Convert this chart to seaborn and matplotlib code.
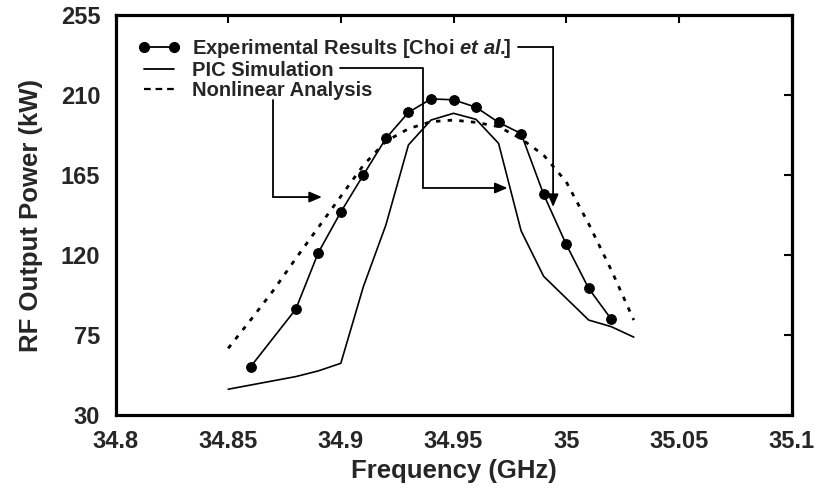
import matplotlib
matplotlib.use("Agg")
import matplotlib.pyplot as plt
from matplotlib.lines import Line2D
import seaborn as sns
import pandas as pd

# ---- data ----
exp_freq = [34.86, 34.88, 34.89, 34.90, 34.91, 34.92, 34.93, 34.94,
            34.95, 34.96, 34.97, 34.98, 34.99, 35.00, 35.01, 35.02]
exp_power = [57.2, 89.5, 121.3, 144.2, 165.0, 185.6, 200.2, 207.8,
             207.3, 203.1, 194.6, 188.3, 154.1, 126.0, 101.2, 83.9]

pic_freq = [34.85, 34.88, 34.89, 34.90, 34.91, 34.92, 34.93, 34.94,
            34.95, 34.96, 34.97, 34.98, 34.99, 35.01, 35.02, 35.03]
pic_power = [44.5, 51.6, 54.8, 59.1, 102.2, 136.9, 181.9, 195.9,
             199.7, 196.3, 182.8, 133.6, 108.0, 83.4, 79.7, 73.8]

nl_freq = [34.85, 34.86, 34.87, 34.88, 34.89, 34.90, 34.91, 34.92, 34.93,
           34.94, 34.95, 34.96, 34.97, 34.98, 34.99, 35.00, 35.01, 35.02, 35.03]
nl_power = [67.5, 83.5, 100.0, 118.0, 135.5, 153.0, 170.5, 184.0, 191.0,
            195.0, 195.9, 194.6, 192.2, 185.4, 176.2, 161.2, 137.5, 111.6, 83.4]

x_ticks = [34.8, 34.85, 34.9, 34.95, 35.0, 35.05, 35.1]
x_tick_labels = ["34.8", "34.85", "34.9", "34.95", "35", "35.05", "35.1"]
y_ticks = [30, 75, 120, 165, 210, 255]

labels = [r"Experimental Results [Choi $\mathit{et\ al.}\!\!$]",
          "PIC Simulation", "Nonlinear Analysis"]

# ---- style ----
sns.set_style("white")
plt.rcParams["font.family"] = ["Liberation Sans", "DejaVu Sans"]
plt.rcParams["font.weight"] = "bold"
plt.rcParams["mathtext.fontset"] = "custom"
plt.rcParams["mathtext.it"] = "Liberation Sans:italic:bold"
plt.rcParams["mathtext.rm"] = "Liberation Sans:bold"

fig = plt.figure(figsize=(8.18, 4.88), dpi=100)
ax = fig.add_axes([115.5 / 818, 1 - 415 / 488, 676 / 818, 400 / 488])

exp_df = pd.DataFrame({"f": exp_freq, "p": exp_power})
pic_df = pd.DataFrame({"f": pic_freq, "p": pic_power})
nl_df = pd.DataFrame({"f": nl_freq, "p": nl_power})

sns.lineplot(data=exp_df, x="f", y="p", ax=ax, color="black", lw=1.2,
             marker="o", markersize=7, markeredgecolor="black", sort=False)
sns.lineplot(data=pic_df, x="f", y="p", ax=ax, color="black", lw=1.2, sort=False)
sns.lineplot(data=nl_df, x="f", y="p", ax=ax, color="black", lw=2.0,
             linestyle=(0, (1.6, 2.6)), sort=False)

ax.set_xlim(34.8, 35.1)
ax.set_ylim(30, 255)
ax.set_xticks(x_ticks)
ax.set_xticklabels(x_tick_labels)
ax.set_yticks(y_ticks)
ax.tick_params(direction="in", length=6, width=1.5, top=True, right=True,
               labelsize=17, pad=11, color="black")
for lab in ax.get_xticklabels() + ax.get_yticklabels():
    lab.set_fontweight("bold")
for s in ax.spines.values():
    s.set_linewidth(2.3)
    s.set_color("black")

ax.set_xlabel("Frequency (GHz)", fontsize=18.5, fontweight="bold", labelpad=4)
ax.set_ylabel("RF Output Power (kW)", fontsize=18.5, fontweight="bold", labelpad=13)

handles = [
    Line2D([], [], color="black", lw=1.3, marker="o", markersize=7),
    Line2D([], [], color="black", lw=1.3),
    Line2D([], [], color="black", lw=1.6, linestyle=(0, (3.0, 2.2))),
]
leg = ax.legend(handles, labels, loc="upper left", bbox_to_anchor=(0.033, 0.945),
                frameon=False, prop={"size": 14.5, "weight": "bold"},
                handlelength=2.1, handletextpad=0.6, labelspacing=0.05,
                borderpad=0, borderaxespad=0, numpoints=2)

# ---- annotation arrows (elbow connectors from legend entries) ----
akw = dict(color="black", lw=1.3, clip_on=False)
arrow = dict(arrowstyle="-|>,head_length=0.75,head_width=0.32", color="black",
             lw=1.3, shrinkA=0, shrinkB=0)
# Experimental
ax.plot([34.9786, 34.9942], [237.0, 237.0], **akw)
ax.annotate("", xy=(34.9942, 147.0), xytext=(34.9942, 237.0), arrowprops=arrow)
# PIC
ax.plot([34.8996, 34.9365, 34.9365], [225.2, 225.2, 157.7], **akw)
ax.annotate("", xy=(34.974, 157.7), xytext=(34.9365, 157.7), arrowprops=arrow)
# Nonlinear
ax.plot([34.8699, 34.8699], [207.2, 152.6], **akw)
ax.annotate("", xy=(34.8916, 152.6), xytext=(34.8699, 152.6), arrowprops=arrow)

fig.savefig("out.png", dpi=100)
